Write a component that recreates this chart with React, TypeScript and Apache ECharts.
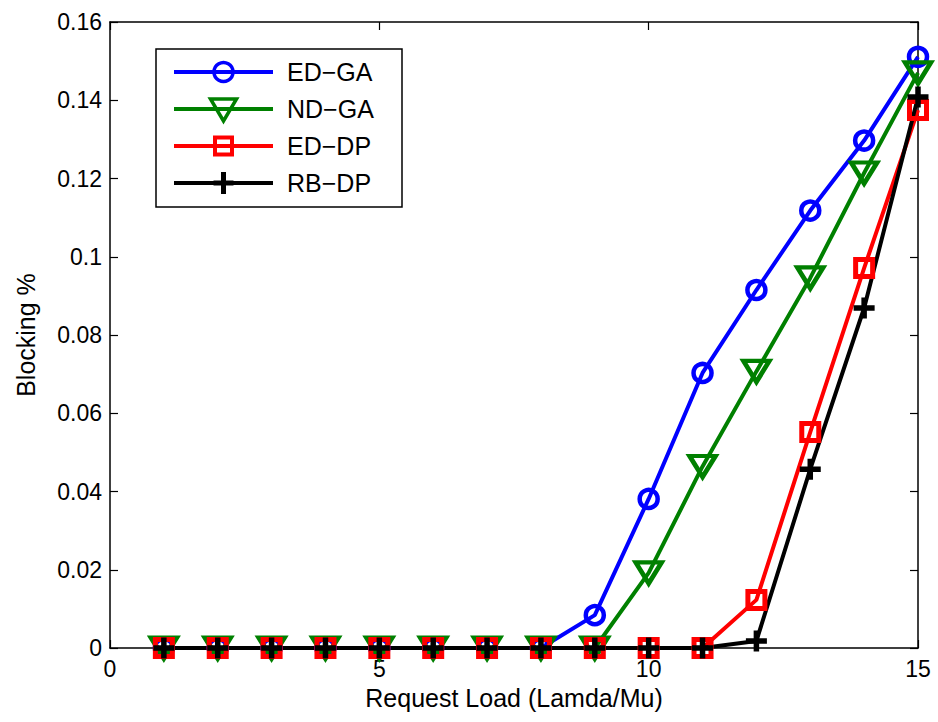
import React, { useEffect, useRef } from "react";
import * as echarts from "echarts";

const loads = [1, 2, 3, 4, 5, 6, 7, 8, 9, 10, 11, 12, 13, 14, 15];
const edGA = [0, 0, 0, 0, 0, 0, 0, 0, 0.0084, 0.0381, 0.0703, 0.0915, 0.1118, 0.1297, 0.1511];
const ndGA = [0, 0, 0, 0, 0, 0, 0, 0, 0, 0.0192, 0.0464, 0.0707, 0.0946, 0.1214, 0.147];
const edDP = [0, 0, 0, 0, 0, 0, 0, 0, 0, 0, 0, 0.0123, 0.0552, 0.0971, 0.1375];
const rbDP = [0, 0, 0, 0, 0, 0, 0, 0, 0, 0, 0, 0.0018, 0.0457, 0.0869, 0.1408];
const seriesNames = ["ED\u2212GA", "ND\u2212GA", "ED\u2212DP", "RB\u2212DP"];
const seriesColors = ["#0000ff", "#008000", "#ff0000", "#000000"];
const xTicks = { min: 0, max: 15, interval: 5 };
const yTicks = { min: 0, max: 0.16, interval: 0.02 };

const FONT = "'Liberation Sans', Arial, Helvetica, sans-serif";

function pairs(ys: number[]) {
  return loads.map((x, i) => [x, ys[i]]);
}

function legendGraphics() {
  const boxX = 156, boxY = 49, boxW = 246, boxH = 158;
  const lineX0 = 174, lineX1 = 273, mx = 223.5, textX = 287;
  const rowY = (i: number) => 72 + 37 * i;
  const els: any[] = [
    {
      type: "rect",
      shape: { x: boxX, y: boxY, width: boxW, height: boxH },
      style: { fill: "#fff", stroke: "#000", lineWidth: 1.5 },
      z: 100,
    },
  ];
  seriesNames.forEach((name, i) => {
    const cy = rowY(i);
    const color = seriesColors[i];
    els.push({
      type: "line",
      shape: { x1: lineX0, y1: cy, x2: lineX1, y2: cy },
      style: { stroke: color, lineWidth: 4 },
      z: 101,
    });
    if (i === 0) {
      els.push({
        type: "circle",
        shape: { cx: mx, cy, r: 9.5 },
        style: { fill: "none", stroke: color, lineWidth: 3.5 },
        z: 102,
      });
    } else if (i === 1) {
      els.push({
        type: "polygon",
        shape: { points: [[mx - 13, cy - 10], [mx + 13, cy - 10], [mx, cy + 12]] },
        style: { fill: "none", stroke: color, lineWidth: 3.5 },
        z: 102,
      });
    } else if (i === 2) {
      els.push({
        type: "rect",
        shape: { x: mx - 8.5, y: cy - 8.5, width: 17, height: 17 },
        style: { fill: "none", stroke: color, lineWidth: 4 },
        z: 102,
      });
    } else {
      els.push({
        type: "line",
        shape: { x1: mx, y1: cy - 11, x2: mx, y2: cy + 11 },
        style: { stroke: color, lineWidth: 5 },
        z: 102,
      });
      els.push({
        type: "line",
        shape: { x1: mx - 10, y1: cy, x2: mx + 10, y2: cy },
        style: { stroke: color, lineWidth: 5 },
        z: 102,
      });
    }
    els.push({
      type: "text",
      x: textX,
      y: cy,
      style: {
        text: name,
        fill: "#000",
        font: `25px ${FONT}`,
        textAlign: "left",
        textVerticalAlign: "middle",
      },
      z: 102,
    });
  });
  return els;
}

export default function App() {
  const ref = useRef<HTMLDivElement>(null);
  useEffect(() => {
    if (!ref.current) return;
    const chart = echarts.init(ref.current, null, { renderer: "svg" });
    const axisLine = { show: true, onZero: false, lineStyle: { color: "#000", width: 1.5 } };
    const axisTick = { show: true, inside: true, length: 8, lineStyle: { color: "#000", width: 1.2 } };
    const baseSeries = (name: string, ys: number[], color: string, symbol: string, size: any, bw: number, extra: any = {}) => ({
      name,
      type: "line",
      data: pairs(ys),
      clip: false,
      showAllSymbol: true,
      symbol,
      symbolSize: size,
      lineStyle: { color, width: 4 },
      itemStyle: { color: "rgba(0,0,0,0)", borderColor: color, borderWidth: bw },
      emphasis: { disabled: true },
      ...extra,
    });
    chart.setOption({
      animation: false,
      backgroundColor: "#fff",
      textStyle: { fontFamily: FONT },
      grid: { left: 110, right: 20, top: 22, bottom: 74, containLabel: false },
      graphic: { elements: legendGraphics() },
      xAxis: [
        {
          type: "value",
          position: "bottom",
          ...xTicks,
          axisLine,
          axisTick,
          splitLine: { show: false },
          axisLabel: { fontSize: 23, color: "#000", margin: 9, fontFamily: FONT },
          name: "Request Load (Lamda/Mu)",
          nameLocation: "middle",
          nameGap: 37,
          nameTextStyle: { fontSize: 25, color: "#000", fontFamily: FONT },
        },
        {
          type: "value",
          position: "top",
          ...xTicks,
          axisLine,
          axisTick,
          splitLine: { show: false },
          axisLabel: { show: false },
        },
      ],
      yAxis: [
        {
          type: "value",
          position: "left",
          ...yTicks,
          axisLine,
          axisTick,
          splitLine: { show: false },
          axisLabel: { fontSize: 23, color: "#000", margin: 8, fontFamily: FONT },
          name: "Blocking %",
          nameLocation: "middle",
          nameGap: 72,
          nameTextStyle: { fontSize: 25, color: "#000", fontFamily: FONT },
        },
        {
          type: "value",
          position: "right",
          ...yTicks,
          axisLine,
          axisTick,
          splitLine: { show: false },
          axisLabel: { show: false },
        },
      ],
      series: [
        baseSeries(seriesNames[0], edGA, seriesColors[0], "circle", 18, 4.5),
        baseSeries(seriesNames[1], ndGA, seriesColors[1], "triangle", [26, 21], 4.5, { symbolRotate: 180 }),
        baseSeries(seriesNames[2], edDP, seriesColors[2], "rect", 17, 5),
        baseSeries(seriesNames[3], rbDP, seriesColors[3], "path://M10,0 L10,20 M0,10 L20,10", 21, 5.5),
      ],
    });
    return () => chart.dispose();
  }, []);
  return (
    <div
      ref={ref}
      style={{ position: "absolute", left: 0, top: 0, width: 938, height: 722, background: "#fff" }}
    />
  );
}
